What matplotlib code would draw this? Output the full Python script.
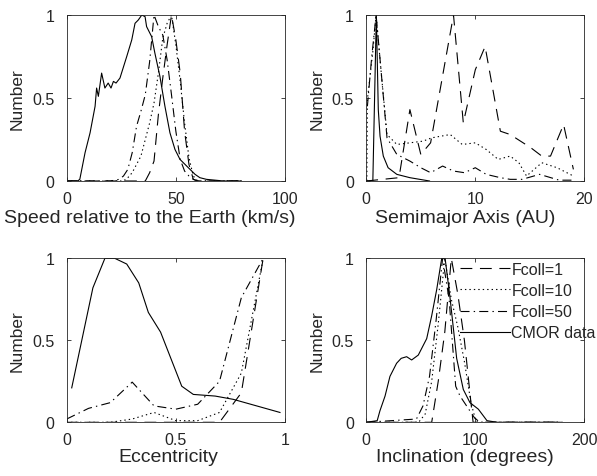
import matplotlib
matplotlib.use("Agg")
import matplotlib.pyplot as plt

# speed relative to the Earth (km/s)
speed_cmor_x = [0, 5, 6, 8.4, 10.7, 13, 13.7, 14.5, 16, 17.5, 19, 20.3, 21.4, 22.6, 24.4, 27.5, 29.8, 31.3,
                32.8, 34.4, 35.9, 36.6, 38.9, 40.4, 42.7, 45, 47.3, 49.6, 51.9, 54.2, 56.5, 58.8, 61, 64, 68, 72, 80]
speed_cmor_y = [0, 0, 0.01, 0.17, 0.29, 0.45, 0.56, 0.51, 0.65, 0.56, 0.59, 0.56, 0.6, 0.59, 0.62, 0.75, 0.85, 0.95,
                0.97, 1.0, 0.99, 0.93, 0.87, 0.77, 0.63, 0.45, 0.29, 0.19, 0.13, 0.1, 0.07, 0.04, 0.02, 0.01, 0.005, 0, 0]
speed_bins = [0, 20, 24, 26, 28, 30, 32, 34, 36, 38, 40, 42, 44, 46, 48, 50, 52, 54, 56, 58, 60, 80]
speed_f1 = [0, 0, 0, 0, 0, 0, 0, 0, 0, 0.05, 0.12, 0.4, 0.62, 0.82, 1.0, 0.85, 0.65, 0.3, 0.1, 0.01, 0, 0]
speed_f10 = [0, 0, 0, 0, 0.02, 0.05, 0.1, 0.15, 0.25, 0.35, 0.47, 0.65, 0.86, 0.95, 1.0, 0.82, 0.6, 0.35, 0.14, 0.03, 0, 0]
speed_f50 = [0, 0, 0.01, 0.03, 0.07, 0.17, 0.33, 0.42, 0.52, 0.72, 1.0, 0.93, 0.88, 0.73, 0.52, 0.3, 0.13, 0.06, 0.03, 0.01, 0, 0]

# semimajor axis (AU)
a_cmor_x = [0, 0.6, 0.92, 1.1, 1.26, 1.56, 2.0, 2.8, 4.0, 5.8]
a_cmor_y = [0, 0, 1.0, 0.43, 0.27, 0.15, 0.08, 0.04, 0.02, 0.0]
a_f1_x = [0, 3.0, 4.0, 5.0, 5.9, 8.0, 8.9, 10.0, 10.9, 12.3, 13.2, 15.1, 16.1, 16.9, 18.1, 19.0]
a_f1_y = [0, 0.02, 0.43, 0.16, 0.23, 1.0, 0.35, 0.67, 0.81, 0.3, 0.28, 0.2, 0.15, 0.15, 0.34, 0.07]
a_f10_x = [0.05, 0.1, 0.6, 0.9, 1.4, 1.9, 2.8, 4.0, 5.2, 6.0, 7.7, 8.8, 10.0, 11.0, 12.1, 13.2, 14.0, 14.7,
           16.1, 17.5, 19.0]
a_f10_y = [0, 0.49, 0.78, 1.0, 0.63, 0.28, 0.22, 0.23, 0.24, 0.26, 0.28, 0.22, 0.23, 0.19, 0.13, 0.15, 0.11, 0.03,
           0.11, 0.08, 0.03]
a_f50_x = [0.1, 0.5, 0.9, 1.9, 2.8, 4.0, 5.0, 5.9, 7.0, 8.0, 9.0, 10.0, 11.0, 12.3, 13.2, 14.3, 15.9, 17.7, 19.0]
a_f50_y = [0.45, 0.75, 1.0, 0.26, 0.16, 0.12, 0.08, 0.05, 0.09, 0.06, 0.05, 0.08, 0.04, 0.02, 0.01, 0.01, 0.04,
           0.005, 0.005]

# eccentricity
e_cmor_x = [0.023, 0.12, 0.175, 0.22, 0.275, 0.33, 0.374, 0.43, 0.527, 0.58, 0.68, 0.763, 0.87, 0.977]
e_cmor_y = [0.21, 0.82, 1.0, 1.0, 0.965, 0.85, 0.67, 0.55, 0.22, 0.17, 0.16, 0.14, 0.1, 0.06]
e_bins = [0, 0.1, 0.2, 0.3, 0.4, 0.5, 0.6, 0.7, 0.8, 0.9]
e_f1 = [0, 0, 0, 0, 0, 0, 0, 0, 0.18, 1.0]
e_f10 = [0, 0, 0, 0.02, 0.06, 0.01, 0.01, 0.06, 0.3, 1.0]
e_f50 = [0.02, 0.085, 0.12, 0.245, 0.1, 0.08, 0.11, 0.25, 0.76, 1.0]

# inclination (degrees)
i_cmor_x = [0, 10, 12.5, 17.2, 21.7, 27.8, 32, 37, 41.6, 47.7, 55.4, 60, 64.6, 69.2, 72.3, 76.8, 82.9, 89,
            95.1, 102.8, 110.7, 120, 178]
i_cmor_y = [0, 0.01, 0.07, 0.16, 0.28, 0.36, 0.39, 0.4, 0.38, 0.41, 0.51, 0.65, 0.81, 1.0, 1.0, 0.76, 0.39, 0.2,
            0.12, 0.08, 0.01, 0, 0]
i_f1_x = [0, 60, 66, 72, 78, 84, 90, 96, 98, 180]
i_f1_y = [0, 0, 0.25, 0.55, 1.0, 0.78, 0.5, 0.12, 0, 0]
i_f10_x = [0, 48, 54, 60, 66, 72, 78, 84, 90, 96, 100, 102, 180]
i_f10_y = [0, 0, 0.05, 0.25, 0.6, 1.0, 0.75, 0.58, 0.37, 0.12, 0.02, 0, 0]
i_f50_x = [0, 46, 52, 58, 64, 70, 76, 82, 86, 92, 99, 104, 180]
i_f50_y = [0, 0.02, 0.1, 0.28, 0.62, 1.0, 0.75, 0.22, 0.16, 0.1, 0.03, 0, 0]

labels = ["Fcoll=1", "Fcoll=10", "Fcoll=50", "CMOR data"]

tick_fs = 11.5
xlab_fs = 14
ylab_fs = 12.5
plt.rcParams['font.family'] = ['Liberation Sans', 'DejaVu Sans']
plt.rcParams['font.size'] = tick_fs
plt.rcParams['lines.scale_dashes'] = False
text_col = '#262626'

lw = 0.8
styles = [dict(color='k', lw=lw, dashes=(8.5, 5.5)),
          dict(color='k', lw=lw, dashes=(1.0, 2.2)),
          dict(color='k', lw=lw, dashes=(6.5, 3, 1, 3)),
          dict(color='k', lw=lw, linestyle='-')]

fig = plt.figure(figsize=(5.97, 4.77), dpi=100)
W, H = 597, 477


def make_axes(left, top, right, bottom):
    return fig.add_axes([left / W, 1 - bottom / H, (right - left) / W, (bottom - top) / H])


ax1 = make_axes(66.7, 16, 285, 182)
ax2 = make_axes(366.3, 16, 584.3, 182)
ax3 = make_axes(66.7, 259.3, 285, 423.3)
ax4 = make_axes(366.3, 259.3, 584.3, 423.3)

# (axes, series, xlim, xticks, xlabel, xlabel centre x in pixels, xlabel y in axes fraction)
panels = [
    (ax1, [(speed_bins, speed_f1), (speed_bins, speed_f10), (speed_bins, speed_f50), (speed_cmor_x, speed_cmor_y)],
     (0, 100), [0, 50, 100], "Speed relative to the Earth (km/s)", 150, -0.17),
    (ax2, [(a_f1_x, a_f1_y), (a_f10_x, a_f10_y), (a_f50_x, a_f50_y), (a_cmor_x, a_cmor_y)],
     (0, 20), [0, 10, 20], "Semimajor Axis (AU)", 465.5, -0.17),
    (ax3, [(e_bins, e_f1), (e_bins, e_f10), (e_bins, e_f50), (e_cmor_x, e_cmor_y)],
     (0, 1), [0, 0.5, 1], "Eccentricity", 168.5, -0.155),
    (ax4, [(i_f1_x, i_f1_y), (i_f10_x, i_f10_y), (i_f50_x, i_f50_y), (i_cmor_x, i_cmor_y)],
     (0, 200), [0, 100, 200], "Inclination (degrees)", 465, -0.155),
]

for ax, series, xlim, xticks, xlabel, xc, yc in panels:
    handles = []
    for (xs, ys), st, lab in zip(series, styles, labels):
        h, = ax.plot(xs, ys, label=lab, **st)
        handles.append(h)
    ax.set_xlim(*xlim)
    ax.set_ylim(0, 1)
    ax.set_xticks(xticks)
    ax.set_xticklabels([f"{t:g}" for t in xticks])
    ax.set_yticks([0, 0.5, 1])
    ax.set_yticklabels(["0", "0.5", "1"])
    ax.tick_params(direction='in', length=3, width=0.6, top=True, right=True,
                   labelsize=tick_fs, colors=text_col)
    ax.tick_params(axis='x', pad=7)
    ax.tick_params(axis='y', pad=9)
    for sp in ax.spines.values():
        sp.set_linewidth(0.6)
        sp.set_color(text_col)
    ax.set_xlabel(xlabel, color=text_col, fontsize=xlab_fs)
    ax.set_ylabel("Number", color=text_col, fontsize=ylab_fs, labelpad=5)
    bb = ax.get_position()
    ax.xaxis.set_label_coords((xc / W - bb.x0) / bb.width, yc)

ax4.legend(handles=handles, loc='upper left', bbox_to_anchor=(460 / W, 1 - 263 / H),
           bbox_transform=fig.transFigure, frameon=False, handlelength=3.1, handletextpad=0.12,
           labelspacing=0.38, borderpad=0, borderaxespad=0, fontsize=tick_fs, labelcolor=text_col)

fig.savefig("out.png", dpi=100)
